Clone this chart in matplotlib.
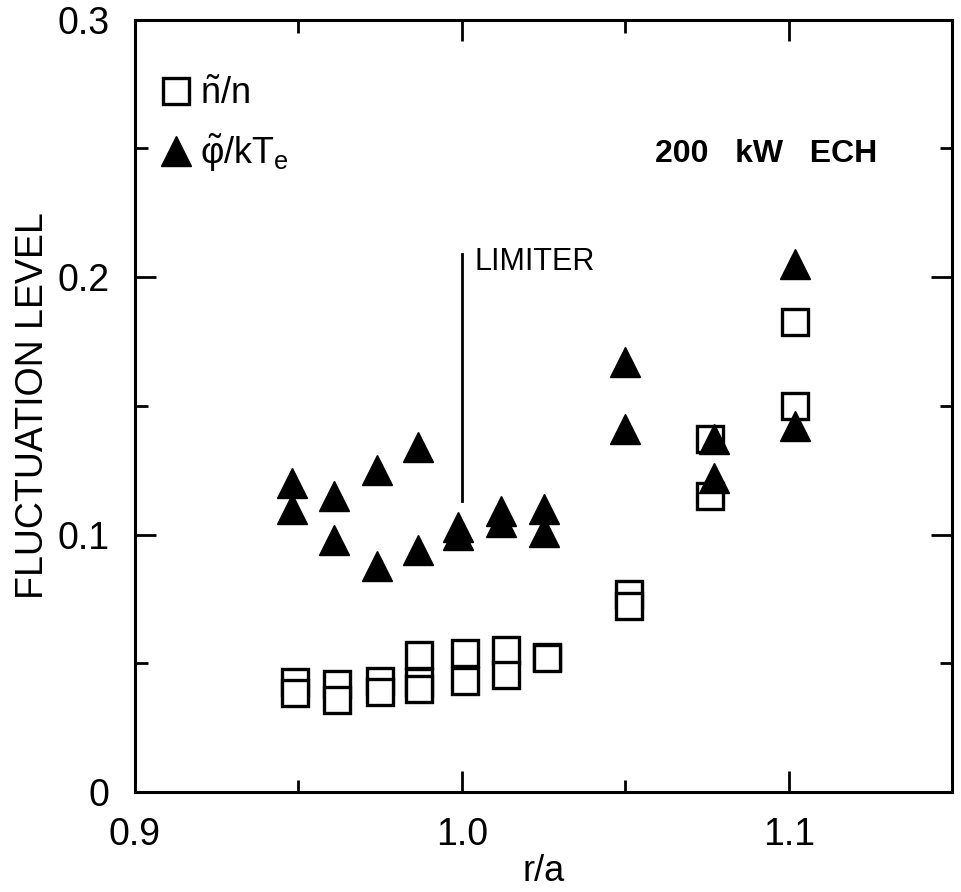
import numpy as np
import matplotlib
matplotlib.use("Agg")
import matplotlib.pyplot as plt
from matplotlib.lines import Line2D

plt.rcParams['font.family'] = ['Liberation Sans', 'DejaVu Sans']
plt.rcParams['mathtext.fontset'] = 'custom'
plt.rcParams['mathtext.rm'] = 'Liberation Sans'
plt.rcParams['mathtext.it'] = 'Liberation Sans'

# phi~/kTe  (filled triangles)
r_phi = [0.948, 0.948, 0.961, 0.961, 0.974, 0.974, 0.9865, 0.9865, 0.999, 0.999,
         1.012, 1.012, 1.025, 1.025, 1.050, 1.050, 1.077, 1.077, 1.102, 1.102]
phi = [0.120, 0.110, 0.115, 0.098, 0.125, 0.088, 0.134, 0.094, 0.103, 0.100,
       0.109, 0.105, 0.110, 0.101, 0.167, 0.141, 0.137, 0.122, 0.205, 0.142]

# n~/n  (open squares)
r_n = [0.949, 0.949, 0.962, 0.962, 0.975, 0.975, 0.987, 0.987, 0.987, 1.001, 1.001,
       1.0135, 1.0135, 1.026, 1.026, 1.051, 1.051, 1.076, 1.076, 1.102, 1.102]
dn = [0.0426, 0.0383, 0.042, 0.0356, 0.0433, 0.039, 0.0534, 0.0426, 0.040, 0.054, 0.0433,
      0.055, 0.0453, 0.0526, 0.052, 0.077, 0.0723, 0.137, 0.115, 0.1826, 0.150]

limiter_r = 1.0
limiter_y = [0.113, 0.209]

fig = plt.figure(figsize=(9.62, 8.92), dpi=100)
ax = fig.add_axes([0.140, 0.112, 0.850, 0.866])

ax.plot(r_n, dn, ls='none', marker='s', ms=19, mfc='white', mec='black', mew=2.4, zorder=3)
ax.plot(r_phi, phi, ls='none', marker='^', ms=21, mfc='black', mec='black', zorder=4)

# limiter marker
ax.plot([limiter_r, limiter_r], limiter_y, color='black', lw=2)
ax.text(limiter_r + 0.004, 0.200, 'LIMITER', fontsize=22, ha='left', va='bottom')

ax.text(1.059, 0.248, '200   kW   ECH', fontsize=23, fontweight='bold', ha='left', va='center')

ax.set_xlim(0.9, 1.15)
ax.set_ylim(0, 0.3)
ax.set_xticks([0.9, 1.0, 1.1])
ax.set_xticklabels(['0.9', '1.0', '1.1'])
ax.set_xticks([0.95, 1.05], minor=True)
ax.set_yticks([0, 0.1, 0.2, 0.3])
ax.set_yticklabels(['0', '0.1', '0.2', '0.3'])
ax.set_yticks([0.05, 0.15, 0.25], minor=True)

ax.tick_params(which='both', direction='in', top=True, right=True, width=2, labelsize=27)
ax.tick_params(which='major', length=15)
ax.tick_params(which='minor', length=9)
ax.tick_params(axis='x', pad=18)
ax.tick_params(axis='y', pad=18)
for s in ax.spines.values():
    s.set_linewidth(2.2)

ax.set_xlabel('r/a', fontsize=26)
ax.xaxis.set_label_coords(0.5, -0.080)
ax.set_ylabel('FLUCTUATION LEVEL', fontsize=27, labelpad=5)

handles = [Line2D([], [], ls='none', marker='s', ms=19, mfc='white', mec='black', mew=2.4),
           Line2D([], [], ls='none', marker='^', ms=21, mfc='black', mec='black')]
ax.legend(handles, [r'$\tilde{\mathrm{n}}/\mathrm{n}$', r'$\tilde{\varphi}/\mathrm{kT_e}$'],
          loc='upper left', bbox_to_anchor=(0.011, 0.945), frameon=False, fontsize=26,
          handlelength=1.0, handletextpad=0.15, labelspacing=0.55, borderaxespad=0)

fig.savefig('out.png', dpi=100)
